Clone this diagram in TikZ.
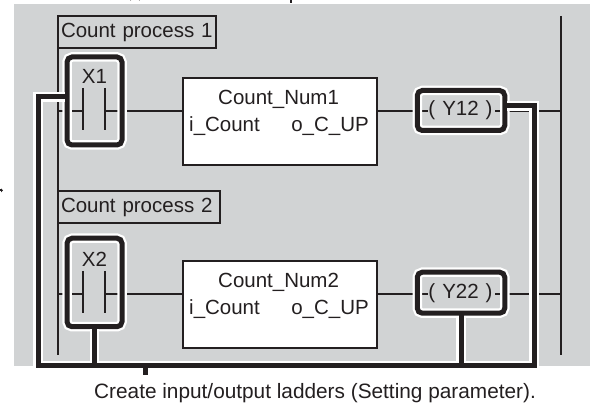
\documentclass[tikz,border=0pt]{standalone}
\usepackage{fontspec}
\setmainfont{Liberation Sans}
\definecolor{ink}{HTML}{231F20}
\definecolor{panel}{HTML}{D1D3D4}
\tikzset{
	txt/.style={text=ink, inner sep=0, font=\fontsize{20.5}{24}\selectfont},
	rail/.style={draw=ink, line width=1.8},
	rung/.style={draw=ink, line width=1.8},
	tagbox/.style={txt, draw=ink, line width=1.1, anchor=north west, outer sep=0, align=left, inner xsep=3, minimum height=32},
	fbbox/.style={draw=ink, fill=white, line width=2, outer sep=0, inner sep=0, minimum width=194, minimum height=87},
	hilite/.style={draw=ink, line width=5, outer sep=0, inner sep=0, rounded corners=5, preaction={draw=white, line width=9.5}},
	bushalo/.style={draw=white, line width=9.5},
	bus/.style={draw=ink, line width=5}
}
\begin{document}
\begin{tikzpicture}[x=1pt, y=-1pt]
		\useasboundingbox (0,0) rectangle (590,403);
		\fill[panel] (14,4) rectangle (590,366);
		\fill[ink] (0,189.5) rectangle (1.5,191.5);
		\fill[ink] (1,188.5)--(3,190.5)--(1,192.5)--cycle;
		\draw[ink, line width=1.5] (130,0) arc (180:360:5 and 2.2);
		\draw[ink, line width=1.5] (291,0)--(291,3);

		\coordinate (railL0) at (58,16);
		\coordinate (railL3) at (58,355);
		\coordinate (railR0) at (561,16);
		\coordinate (railR3) at (561,355);
		\draw[rail] (railL0)--(railL3);
		\draw[rail] (railR0)--(railR3);

		\node[tagbox, text width=152] (tag1) at (58,16) {Count process 1};
		\node[tagbox, text width=156] (tag2) at (58,191) {Count process 2};

		\node[fbbox] (fb1) at (280,121.5) {};
		\node[fbbox] (fb2) at (280,304.5) {};
		\node[txt, anchor=base west] (fb1name) at (218,105) {Count\_Num1};
		\node[txt, anchor=base west] (fb2name) at (218,288) {Count\_Num2};
		\node[txt, anchor=base west] (fb1in) at (189,132) {i\_Count};
		\node[txt, anchor=base west] (fb2in) at (189,315) {i\_Count};
		\node[txt, anchor=base east] (fb1out) at (369,132) {o\_C\_UP};
		\node[txt, anchor=base east] (fb2out) at (369,315) {o\_C\_UP};

		\coordinate (railL1) at (58,111);
		\coordinate (railL2) at (58,294);
		\coordinate (railR1) at (561,111);
		\coordinate (railR2) at (561,294);
		\coordinate (stubL1) at (83,111);
		\coordinate (stubR1) at (105,111);
		\coordinate (stubL2) at (83,294);
		\coordinate (stubR2) at (105,294);
		\coordinate (coilL1) at (428,111);
		\coordinate (coilR1) at (495,111);
		\coordinate (coilL2) at (428,294);
		\coordinate (coilR2) at (495,294);
		\draw[rung] (railL1)--(stubL1);
		\draw[rung] (stubR1)--(fb1.west |- stubR1);
		\draw[rung] (fb1.east |- coilL1)--(coilL1);
		\draw[rung] (coilR1)--(railR1);
		\draw[rung] (railL2)--(stubL2);
		\draw[rung] (stubR2)--(fb2.west |- stubR2);
		\draw[rung] (fb2.east |- coilL2)--(coilL2);
		\draw[rung] (coilR2)--(railR2);

		\draw[rung] (stubL1 |- 0,88)--(stubL1 |- 0,130);
		\draw[rung] (stubR1 |- 0,88)--(stubR1 |- 0,130);
		\draw[rung] (stubL2 |- 0,271)--(stubL2 |- 0,313);
		\draw[rung] (stubR2 |- 0,271)--(stubR2 |- 0,313);

		\node[hilite, minimum width=55, minimum height=88] (x1box) at (94.5,101) {};
		\node[hilite, minimum width=55, minimum height=88.5] (x2box) at (94.5,282.5) {};
		\node[hilite, minimum width=87.5, minimum height=40] (y1box) at (461,110.5) {};
		\node[hilite, minimum width=87.5, minimum height=41] (y2box) at (461,292.7) {};
		\node[txt] (x1name) at (94.5,76) {X1};
		\node[txt] (x2name) at (94.5,259) {X2};
		\node[txt] (y1name) at (460.5,110.5) {(\hspace{7pt}Y12\hspace{7pt})};
		\node[txt] (y2name) at (460.5,293.5) {(\hspace{7pt}Y22\hspace{7pt})};

		\coordinate (busTL) at (38,97);
		\coordinate (busBL) at (38,365.5);
		\coordinate (busBR) at (534,365.5);
		\coordinate (busTR) at (534,106);
		\coordinate (tick) at (145,375);
		\draw[bushalo, shorten <=2.5pt, shorten >=2.5pt] (x1box.west |- busTL)--(busTL)--(busBL)--(busBR)--(busTR)--(y1box.east |- busTR);
		\draw[bushalo, shorten <=2.5pt] (x2box.south)--(x2box.south |- busBL);
		\draw[bushalo, shorten <=2.5pt] (y2box.south)--(y2box.south |- busBL);
		\draw[bus] (x1box.west |- busTL)--(busTL)--(busBL)--(busBR)--(busTR)--(y1box.east |- busTR);
		\draw[bus] (x2box.south)--(x2box.south |- busBL);
		\draw[bus] (y2box.south)--(y2box.south |- busBL);
		\draw[bus] (tick |- busBL)--(tick);

		\node[txt, font=\fontsize{20.8}{24}\selectfont, anchor=base west] (caption) at (94,399) {Create input/output ladders (Setting parameter).};
	\end{tikzpicture}
\end{document}
